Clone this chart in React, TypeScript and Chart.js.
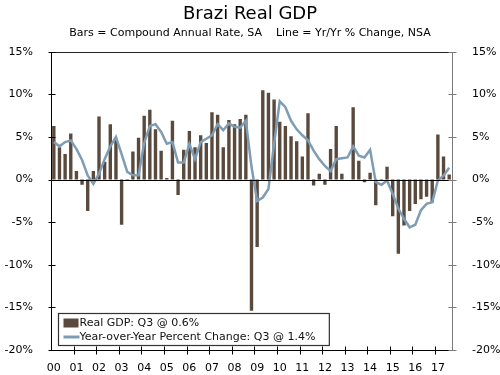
import React, { useEffect, useRef } from "react";
import { Chart, registerables } from "chart.js";

Chart.register(...registerables);

const years = ["00","01","02","03","04","05","06","07","08","09","10","11","12","13","14","15","16","17"];
const quarterNames = ["Q1", "Q2", "Q3", "Q4"];
const quarters: string[] = years.flatMap((y) => quarterNames.map((q) => `${y} ${q}`)).slice(0, 71);

// Bars = Compound Annual Rate, SA
const gdpBars = [
  6.3, 3.8, 3.0, 5.4,
  1.0, -0.6, -3.7, 1.0,
  7.4, 2.1, 6.5, 4.7,
  -5.3, -0.1, 3.3, 4.9,
  7.5, 8.2, 5.9, 3.4,
  0.2, 6.9, -1.8, 3.5,
  5.7, 3.8, 5.2, 4.3,
  7.9, 7.6, 3.8, 7.0,
  6.5, 7.1, 7.6, -15.4,
  -7.9, 10.5, 10.2, 9.4,
  6.8, 6.3, 5.1, 4.5,
  2.7, 7.8, -0.7, 0.7,
  -0.6, 3.6, 6.3, 0.7,
  0.0, 8.5, 2.2, -0.3,
  0.8, -3.0, -0.1, 1.5,
  -4.3, -8.7, -5.4, -3.7,
  -2.85, -2.3, -2.0, -2.7,
  5.3, 2.7, 0.6,
];

// Line = Yr/Yr % Change, NSA
const yoyLine = [
  4.4, 3.9, 4.4, 4.6,
  3.6, 2.3, 0.5, -0.5,
  0.7, 2.4, 3.9, 5.0,
  3.0, 0.9, 0.5, 0.5,
  4.3, 6.3, 6.5, 5.6,
  4.2, 4.4, 2.0, 2.0,
  4.2, 2.4, 4.4, 4.8,
  5.2, 6.5, 5.8, 6.6,
  6.2, 6.1, 6.9, 1.5,
  -2.5, -2.1, -1.1, 4.2,
  9.2, 8.5, 6.9, 5.9,
  5.2, 4.6, 3.4, 2.4,
  1.6, 1.0, 2.4, 2.5,
  2.6, 3.9, 2.8, 2.6,
  3.5, -0.3, -0.6, -0.1,
  -1.7, -3.4, -4.6, -5.6,
  -5.3, -3.6, -2.85, -2.65,
  -0.1, 0.45, 1.4,
];

const yMin = -20;
const yMax = 15;
const yStep = 5;

const titleText = "Brazi Real GDP";
const subtitleText = "Bars = Compound Annual Rate, SA    Line = Yr/Yr % Change, NSA";
const legendBarText = "Real GDP: Q3 @ 0.6%";
const legendLineText = "Year-over-Year Percent Change: Q3 @ 1.4%";

const BAR_COLOR = "#5a4a3d";
const LINE_COLOR = "#7e9db4";
const FONT = "'DejaVu Sans', Verdana, sans-serif";

const framePlugin = {
  id: "frame",
  afterDatasetsDraw(chart: any) {
    const { ctx, chartArea: a, scales } = chart;
    const y = scales.y;
    const L = Math.round(a.left) + 0.5;
    const R = Math.round(a.right) + 0.5;
    ctx.save();
    ctx.lineWidth = 1;
    const z = Math.round(y.getPixelForValue(0)) + 0.5;
    ctx.strokeStyle = "#000";
    ctx.beginPath();
    ctx.moveTo(L, z);
    ctx.lineTo(R, z);
    ctx.stroke();
    ctx.restore();
  },
  afterDraw(chart: any) {
    const { ctx, chartArea: a, scales } = chart;
    const x = scales.x;
    const y = scales.y;
    const L = Math.round(a.left) + 0.5;
    const R = Math.round(a.right) + 0.5;
    const T = Math.round(a.top) + 0.5;
    const B = Math.round(a.bottom) + 0.5;
    ctx.save();
    ctx.lineWidth = 1;
    ctx.strokeStyle = "#222";
    ctx.beginPath();
    ctx.moveTo(L, T);
    ctx.lineTo(R, T);
    ctx.stroke();
    ctx.strokeStyle = "#000";
    ctx.beginPath();
    ctx.moveTo(L, T);
    ctx.lineTo(L, B);
    ctx.lineTo(R, B);
    ctx.stroke();
    ctx.strokeStyle = "#7a7a7a";
    ctx.beginPath();
    ctx.moveTo(R, T);
    ctx.lineTo(R, B);
    ctx.stroke();

    for (let v = yMin; v <= yMax; v += yStep) {
      const py = Math.round(y.getPixelForValue(v)) + 0.5;
      ctx.strokeStyle = "#000";
      ctx.beginPath();
      ctx.moveTo(L - 3, py);
      ctx.lineTo(L + 4, py);
      ctx.stroke();
      ctx.strokeStyle = "#7a7a7a";
      ctx.beginPath();
      ctx.moveTo(R - 4, py);
      ctx.lineTo(R + 4, py);
      ctx.stroke();
    }
    const half = (x.getPixelForValue(1) - x.getPixelForValue(0)) / 2;
    ctx.strokeStyle = "#000";
    for (let i = 4; i < quarters.length; i += 4) {
      const px = Math.round(x.getPixelForValue(i) - half) + 0.5;
      ctx.beginPath();
      ctx.moveTo(px, B - 4);
      ctx.lineTo(px, B + 4);
      ctx.stroke();
    }

    ctx.font = `11px ${FONT}`;
    const w = Math.max(ctx.measureText(legendBarText).width, ctx.measureText(legendLineText).width);
    const bx = Math.round(a.left) + 7.5;
    const by = Math.round(a.bottom) - 36.5;
    const bw = 21 + w + 14;
    const bh = 32;
    ctx.fillStyle = "#fff";
    ctx.fillRect(bx, by, bw, bh);
    ctx.strokeStyle = "#333";
    ctx.lineWidth = 1.2;
    ctx.strokeRect(bx, by, bw, bh);
    ctx.fillStyle = BAR_COLOR;
    ctx.fillRect(bx + 5, by + 5, 15, 9);
    ctx.strokeStyle = LINE_COLOR;
    ctx.lineWidth = 3;
    ctx.beginPath();
    ctx.moveTo(bx + 5, by + 23.5);
    ctx.lineTo(bx + 21, by + 23.5);
    ctx.stroke();
    ctx.fillStyle = "#111";
    ctx.textBaseline = "middle";
    ctx.textAlign = "left";
    ctx.fillText(legendBarText, bx + 21, by + 10);
    ctx.fillText(legendLineText, bx + 21, by + 24);
    ctx.restore();
  },
};

export default function App() {
  const canvasRef = useRef<HTMLCanvasElement | null>(null);

  useEffect(() => {
    if (!canvasRef.current) return;
    const chart = new Chart(canvasRef.current, {
      type: "bar",
      data: {
        labels: quarters,
        datasets: [
          {
            type: "line",
            label: legendLineText,
            data: yoyLine,
            borderColor: LINE_COLOR,
            backgroundColor: LINE_COLOR,
            borderWidth: 2.5,
            pointRadius: 0,
            tension: 0,
            yAxisID: "y2",
            order: 0,
          },
          {
            type: "bar",
            label: legendBarText,
            data: gdpBars,
            backgroundColor: BAR_COLOR,
            borderWidth: 0,
            categoryPercentage: 1,
            barPercentage: 0.6,
            yAxisID: "y",
            order: 1,
          },
        ],
      },
      options: {
        animation: false,
        responsive: true,
        maintainAspectRatio: false,
        layout: { padding: 0 },
        plugins: {
          legend: { display: false },
          tooltip: { enabled: false },
          title: {
            display: true,
            text: titleText,
            color: "#000",
            font: { family: FONT, size: 18, weight: "normal" },
            padding: { top: 4, bottom: 0 },
          },
          subtitle: {
            display: true,
            text: subtitleText,
            color: "#000",
            font: { family: FONT, size: 11, weight: "normal" },
            padding: { top: 1, bottom: 12 },
          },
        },
        scales: {
          x: {
            type: "category",
            offset: true,
            grid: { display: false, offset: true },
            border: { display: false },
            ticks: {
              autoSkip: false,
              maxRotation: 0,
              minRotation: 0,
              padding: 4,
              color: "#000",
              font: { family: FONT, size: 11 },
              callback: (_v: any, i: number) => (i % 4 === 0 ? years[i / 4] : ""),
            },
            afterFit: (s: any) => {
              s.height = 25;
            },
          },
          y: {
            position: "left",
            min: yMin,
            max: yMax,
            grid: { display: false },
            border: { display: false },
            ticks: {
              stepSize: yStep,
              padding: 10,
              color: "#000",
              font: { family: FONT, size: 11 },
              callback: (v: any) => `${v}%`,
            },
            afterFit: (s: any) => {
              s.width = 51;
            },
          },
          y2: {
            position: "right",
            min: yMin,
            max: yMax,
            grid: { display: false },
            border: { display: false },
            ticks: {
              stepSize: yStep,
              padding: 12,
              color: "#000",
              font: { family: FONT, size: 11 },
              callback: (v: any) => `${v}%`,
            },
            afterFit: (s: any) => {
              s.width = 48;
            },
          },
        },
      },
      plugins: [framePlugin],
    });
    return () => chart.destroy();
  }, []);

  return (
    <div style={{ position: "absolute", left: 0, top: 0, width: 500, height: 375, background: "#fff" }}>
      <canvas ref={canvasRef} />
    </div>
  );
}
